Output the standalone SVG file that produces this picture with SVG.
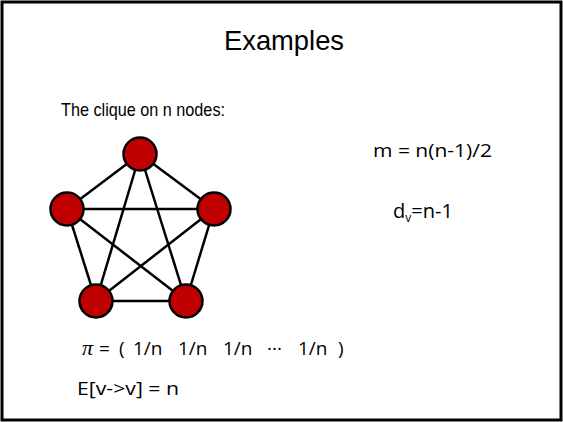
<svg xmlns="http://www.w3.org/2000/svg" width="563" height="422" viewBox="0 0 563 422">
<style>
.t{font-family:"Liberation Sans",Arial,sans-serif;fill:#000}
.c{font-family:"Open Sans","Liberation Sans",sans-serif;fill:#000}
.n{fill:#c00000;stroke:#000;stroke-width:2.5}
.e{stroke:#000;stroke-width:2.5}
</style>
<rect x="0" y="0" width="563" height="422" fill="#fff"/>
<rect x="2" y="2" width="559" height="418" fill="none" stroke="#000" stroke-width="3"/>
<text class="t" x="224" y="50" font-size="28" textLength="120" lengthAdjust="spacingAndGlyphs">Examples</text>
<text class="t" x="61" y="116" font-size="19" textLength="164" lengthAdjust="spacingAndGlyphs">The clique on n nodes:</text>
<text class="c" x="373" y="157" font-size="19" textLength="119" lengthAdjust="spacingAndGlyphs">m = n(n-1)/2</text>
<text class="c" x="393" y="218" font-size="20">d<tspan font-size="12" dy="4">v</tspan><tspan dy="-4">=n-1</tspan></text>
<text class="c" y="355" font-size="19"><tspan x="82" font-family="Liberation Serif,serif" font-style="italic" font-size="22">π</tspan><tspan x="99">=</tspan><tspan x="119">(</tspan><tspan x="133">1/n</tspan><tspan x="178">1/n</tspan><tspan x="223">1/n</tspan><tspan x="267">···</tspan><tspan x="298">1/n</tspan><tspan x="338">)</tspan></text>
<text class="c" x="77" y="395" font-size="19" textLength="102" lengthAdjust="spacingAndGlyphs">E[v-&gt;v] = n</text>
<g id="edges">
<line class="e" x1="140" y1="154" x2="67" y2="209"/>
<line class="e" x1="140" y1="154" x2="214" y2="209"/>
<line class="e" x1="140" y1="154" x2="96" y2="301"/>
<line class="e" x1="140" y1="154" x2="186" y2="301"/>
<line class="e" x1="67" y1="209" x2="214" y2="209"/>
<line class="e" x1="67" y1="209" x2="96" y2="301"/>
<line class="e" x1="67" y1="209" x2="186" y2="301"/>
<line class="e" x1="214" y1="209" x2="96" y2="301"/>
<line class="e" x1="214" y1="209" x2="186" y2="301"/>
<line class="e" x1="96" y1="301" x2="186" y2="301"/>
</g>
<g id="n1"><circle class="n" cx="140" cy="154" r="16.5"/></g>
<g id="n2"><circle class="n" cx="67" cy="209" r="16.5"/></g>
<g id="n3"><circle class="n" cx="214" cy="209" r="16.5"/></g>
<g id="n4"><circle class="n" cx="96" cy="301" r="16.5"/></g>
<g id="n5"><circle class="n" cx="186" cy="301" r="16.5"/></g>
</svg>
